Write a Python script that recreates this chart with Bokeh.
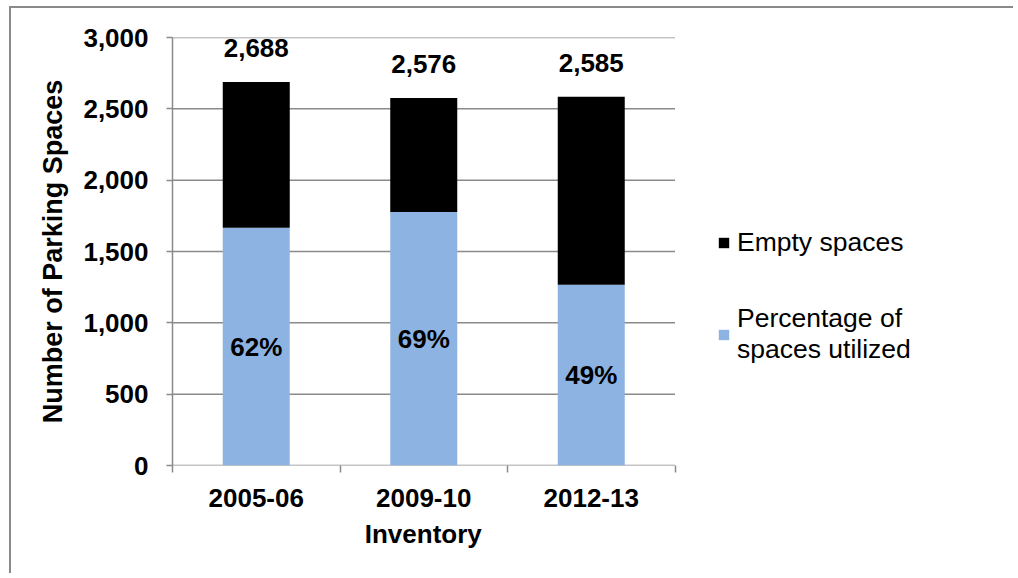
import numpy as np
from bokeh.plotting import figure
from bokeh.models import (Range1d, FixedTicker, NumeralTickFormatter, Legend, LegendItem,
                          ColumnDataSource, Title)
from bokeh.core.properties import value
from bokeh.embed import file_html
from bokeh.resources import INLINE

# ---- data ----
categories = ["2005-06", "2009-10", "2012-13"]
totals = [2688, 2576, 2585]
utilized = [1667, 1777, 1267]
empty = [t - u for t, u in zip(totals, utilized)]
pct_labels = ["62%", "69%", "49%"]
y_ticks = [0, 500, 1000, 1500, 2000, 2500, 3000]

FONT = "Liberation Sans"
BLUE = "#8DB3E2"
GRID = "#8A8A8A"
FS = "26px"

# layout constants (pixels)
W, H = 1004, 567
LEFT, TOP, BOTTOM = 161, 29, 110
PX_PER_CAT = 167.5
FRAME_W = W - LEFT
XTITLE_HALF_W = 59  # approx half width of the x-axis title text

n = len(categories)
xs = np.arange(n) + 0.5
src = ColumnDataSource(dict(
    x=xs, utilized=utilized, empty=empty, totals=totals,
    total_lbl=[f"{t:,}" for t in totals],
    mid=[u / 2 for u in utilized], pct=pct_labels,
))

p = figure(width=W, height=H, output_backend="svg", toolbar_location=None,
           x_range=Range1d(0, FRAME_W / PX_PER_CAT), y_range=Range1d(0, 3000),
           min_border_left=LEFT, min_border_top=TOP, min_border_right=0,
           min_border_bottom=BOTTOM)
p.outline_line_color = None
p.styles = {"margin-left": "9px", "margin-top": "6px",
            "border-left": "2px solid #8a8a8a", "border-top": "2px solid #8a8a8a"}

# gridlines limited to the category area
p.xgrid.grid_line_color = None
p.ygrid.grid_line_color = None
p.segment(x0=[0] * len(y_ticks), x1=[n] * len(y_ticks), y0=y_ticks, y1=y_ticks,
          line_color=GRID, line_width=1.5)

rs = p.vbar_stack(["utilized", "empty"], x="x", width=0.4, source=src,
                  color=[BLUE, "#000000"], line_color=None)

p.text(x="x", y="totals", text="total_lbl", source=src, text_align="center",
       text_baseline="middle", y_offset=-34, text_font=value(FONT),
       text_font_style="bold", text_font_size=FS, text_color="#000000")
p.text(x="x", y="mid", text="pct", source=src, text_align="center",
       text_baseline="middle", text_font=value(FONT),
       text_font_style="bold", text_font_size=FS, text_color="#000000")

# x axis
xa = p.xaxis[0]
xa.ticker = FixedTicker(ticks=list(xs), minor_ticks=list(range(n + 1)))
xa.major_label_overrides = {float(x): c for x, c in zip(xs, categories)}
xa.major_tick_line_color = None
xa.minor_tick_line_color = GRID
xa.minor_tick_line_width = 1.5
xa.minor_tick_out = 7
xa.minor_tick_in = 0
xa.axis_line_color = None
xa.major_label_standoff = 16
xa.major_label_text_font = FONT
xa.major_label_text_font_style = "bold"
xa.major_label_text_font_size = FS
xa.major_label_text_color = "#000000"

# x axis title, centred on the category area
xtitle = Title(text="Inventory", align="left",
               offset=n * PX_PER_CAT / 2 - XTITLE_HALF_W,
               text_font=FONT, text_font_style="bold", text_font_size=FS,
               text_color="#000000", standoff=14)
p.add_layout(xtitle, "below")

# y axis
ya = p.yaxis[0]
ya.ticker = FixedTicker(ticks=y_ticks)
ya.formatter = NumeralTickFormatter(format="0,0")
ya.minor_tick_line_color = None
ya.major_tick_line_color = GRID
ya.major_tick_line_width = 1.5
ya.major_tick_out = 6
ya.major_tick_in = 0
ya.axis_line_color = GRID
ya.axis_line_width = 1.5
ya.axis_label = "Number of Parking Spaces"
ya.major_label_standoff = 18
ya.axis_label_standoff = 12
ya.major_label_text_font = FONT
ya.major_label_text_font_style = "bold"
ya.major_label_text_font_size = FS
ya.major_label_text_color = "#000000"
ya.axis_label_text_font = FONT
ya.axis_label_text_font_style = "bold"
ya.axis_label_text_font_size = "27px"
ya.axis_label_text_color = "#000000"

legend = Legend(items=[LegendItem(label="Empty spaces", renderers=[rs[1]]),
                       LegendItem(label="Percentage of\nspaces utilized", renderers=[rs[0]])],
                location=(545, 100), orientation="vertical",
                label_text_font=FONT, label_text_font_size="26.5px",
                label_text_color="#000000",
                glyph_width=13, glyph_height=13, label_standoff=7,
                spacing=45, padding=0, margin=0,
                border_line_color=None, background_fill_alpha=0)
p.add_layout(legend, "center")

open("out.html", "w").write(file_html(p, INLINE))
